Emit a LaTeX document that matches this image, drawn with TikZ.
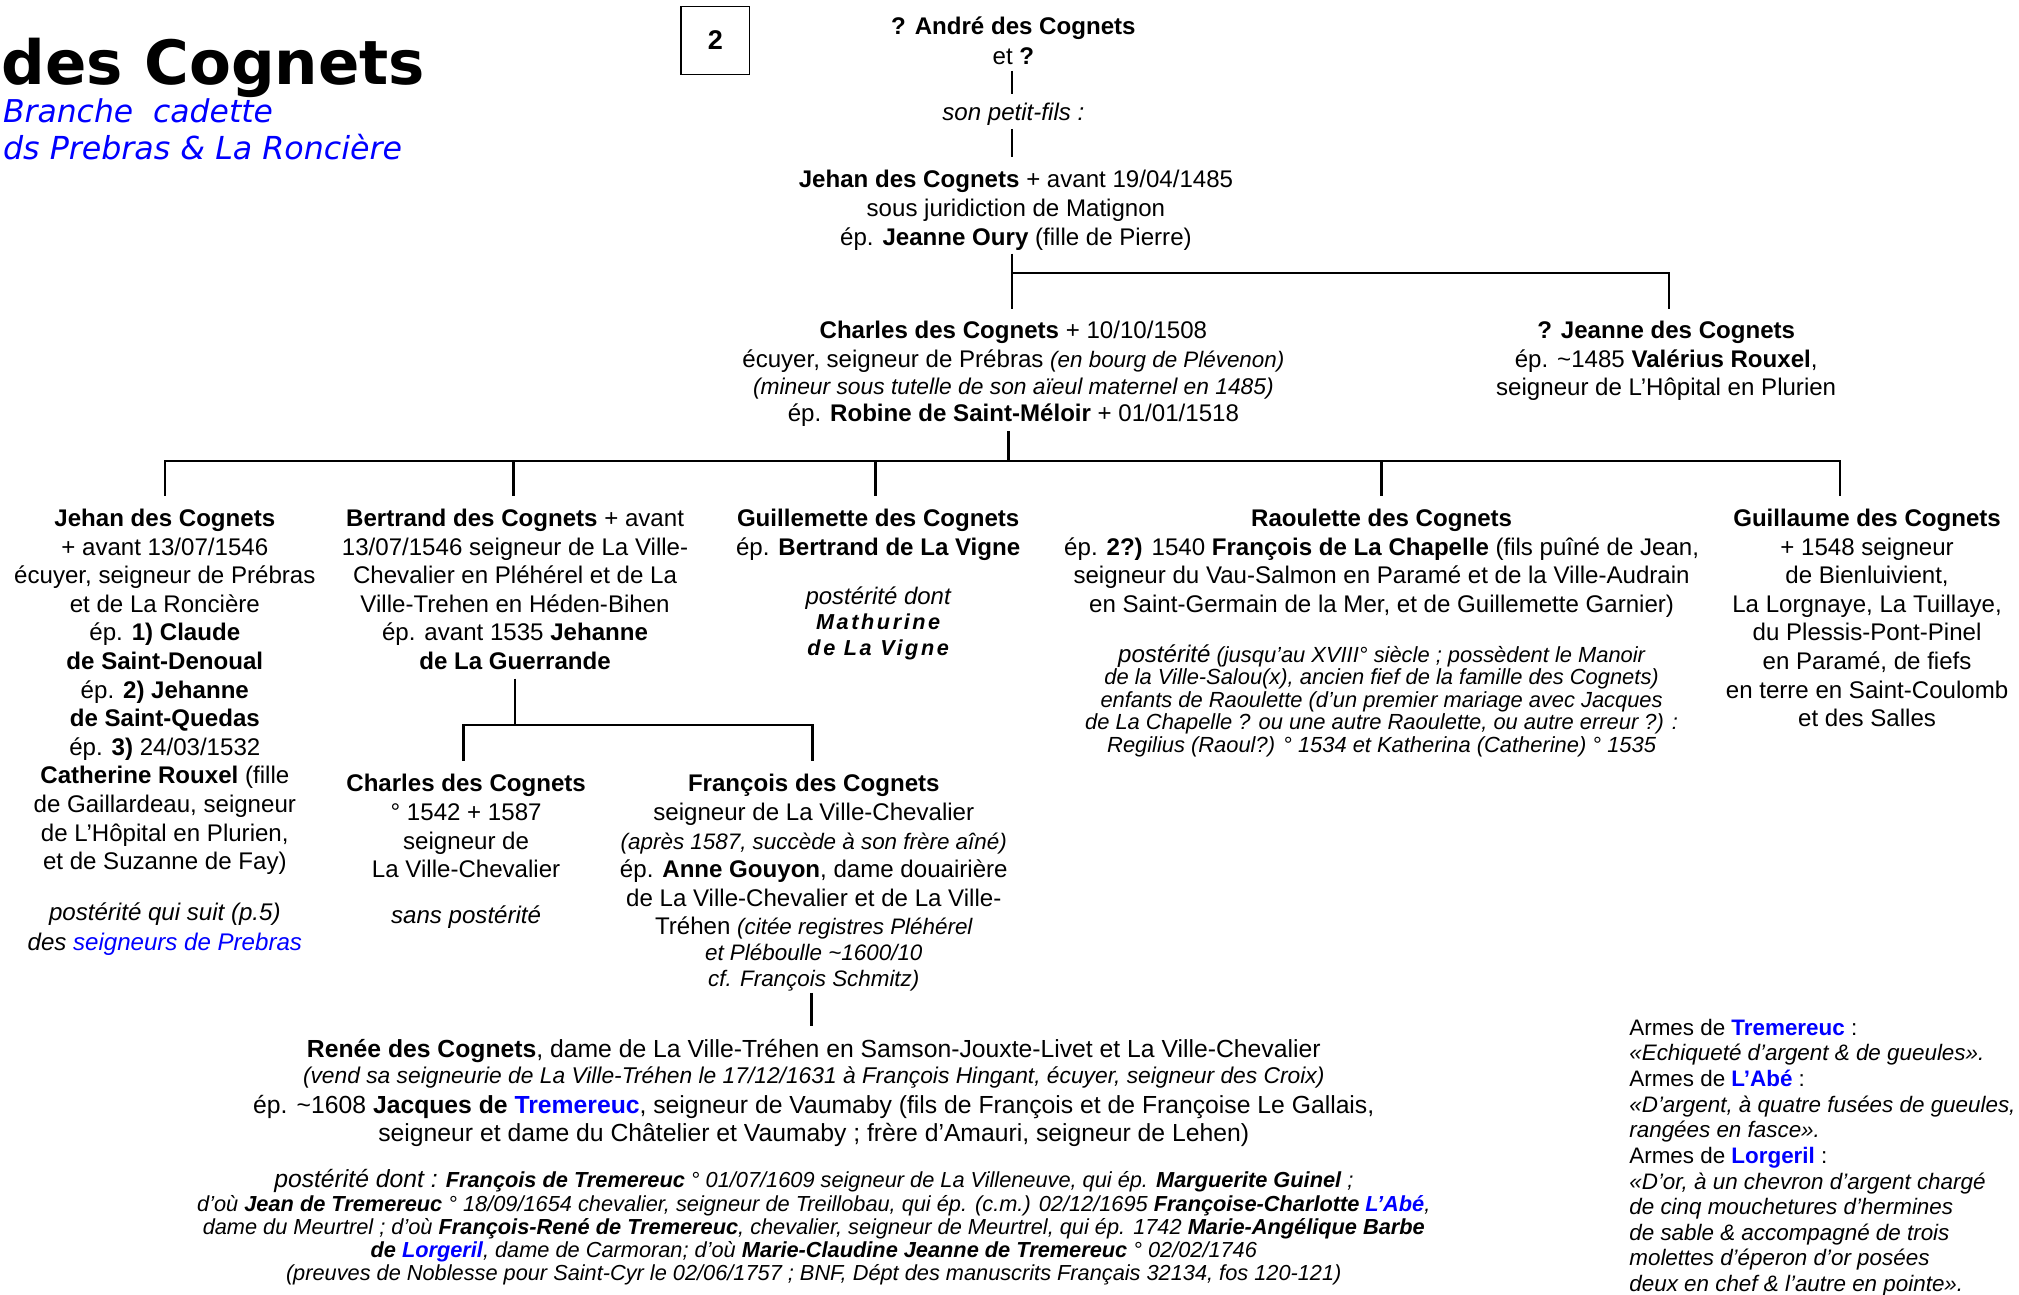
\documentclass[tikz,border=0pt]{standalone}
\usepackage{fontspec}
\setmainfont{Liberation Sans}
\newfontfamily\titlefont{DejaVu Sans}
\definecolor{lnk}{RGB}{0,0,255}
\newcommand{\fmain}{\fontsize{9.35}{11.1}\selectfont}
\newcommand{\fsml}{\fontsize{8.7}{10}\selectfont}
\newcommand{\ftin}{\fontsize{8.5}{8.75}\selectfont}
\newcommand{\fbot}{\fontsize{8.45}{9}\selectfont}
\newcommand{\farm}{\fontsize{8.7}{9.95}\selectfont}
\begin{document}
\begin{tikzpicture}[x=0.5pt,y=-0.5pt,
  conn/.style={line width=1pt},
  txt/.style={inner sep=0pt, align=center, font=\fmain, anchor=north}]
\fill[white] (0,0) rectangle (1568,1005);
\useasboundingbox (0,0) rectangle (1568,1005);

% title
\node[anchor=base west, inner sep=0pt, font=\titlefont\bfseries\fontsize{23.7}{28}\selectfont] (title) at (1,66) {des Cognets};
\node[anchor=base west, inner sep=0pt, text=lnk, font=\titlefont\itshape\fontsize{12.2}{14}\selectfont] (sub1) at (2,95) {Branche\ \ cadette};
\node[anchor=base west, inner sep=0pt, text=lnk, font=\titlefont\itshape\fontsize{12.3}{14}\selectfont] (sub2) at (2,124) {ds Prebras \& La Roncière};
\node[draw, line width=0.6pt, minimum width=26.5pt, minimum height=26.5pt, inner sep=0pt, font=\bfseries\fontsize{10.5}{12}\selectfont] (pg) at (555.5,31.5) {2};

% generations
\node[txt] (andre) at (787,13) {{\bfseries ? André des Cognets}\\[0.4pt] et {\bfseries ?}};
\node[txt, anchor=center, font=\fmain\itshape] (petit) at (787,89) {son petit-fils :};
\node[txt] (jehan0) at (789,132) {{\bfseries Jehan des Cognets} + avant 19/04/1485\\ sous juridiction de Matignon\\ ép. {\bfseries Jeanne Oury} (fille de Pierre)};

\node[txt] (charles0) at (787,249) {{\bfseries Charles des Cognets} + 10/10/1508\\
écuyer, seigneur de Prébras {\fsml\itshape (en bourg de Plévenon)}\\[-0.5pt]
{\fontsize{8.85}{10}\selectfont\itshape (mineur sous tutelle de son aïeul maternel en 1485)}\\[-0.5pt]
ép. {\bfseries Robine de Saint-Méloir} + 01/01/1518};
\node[txt] (jeanne) at (1294,249) {{\bfseries ? Jeanne des Cognets}\\ ép. \textasciitilde 1485 {\bfseries Valérius Rouxel},\\ seigneur de L’Hôpital en Plurien};

\node[txt] (jehan1) at (128,395) {{\bfseries Jehan des Cognets}\\
+ avant 13/07/1546\\
écuyer, seigneur de Prébras\\
et de La Roncière\\
ép. {\bfseries 1) Claude}\\
{\bfseries de Saint-Denoual}\\
ép. {\bfseries 2) Jehanne}\\
{\bfseries de Saint-Quedas}\\
ép. {\bfseries 3)} 24/03/1532\\
{\bfseries Catherine Rouxel} (fille\\
de Gaillardeau, seigneur\\
de L’Hôpital en Plurien,\\
et de Suzanne de Fay)};
\node[txt, font=\fmain\itshape] (jehan1p) at (128,701) {postérité qui suit (p.5)\\[0.5pt] des {\color{lnk}seigneurs de Prebras}};

\node[txt] (bertrand) at (400,395) {{\bfseries Bertrand des Cognets} + avant\\
13/07/1546 seigneur de La Ville-\\
Chevalier en Pléhérel et de La\\
Ville-Trehen en Héden-Bihen\\
ép. avant 1535 {\bfseries Jehanne}\\
{\bfseries de La Guerrande}};

\node[txt] (guillemette) at (682,395) {{\bfseries Guillemette des Cognets}\\ ép. {\bfseries Bertrand de La Vigne}};
\node[txt, font=\fontsize{9.3}{10}\selectfont] (guillemettep) at (682,455) {{\itshape postérité dont}\\
{\fontsize{8.4}{10}\selectfont\bfseries\itshape\addfontfeature{LetterSpace=12}Mathurine}\\
{\fontsize{8.4}{10}\selectfont\bfseries\itshape\addfontfeature{LetterSpace=12}de La Vigne}};

\node[txt] (raoulette) at (1073,395) {{\bfseries Raoulette des Cognets}\\
ép. {\bfseries 2?)} 1540 {\bfseries François de La Chapelle} (fils puîné de Jean,\\
seigneur du Vau-Salmon en Paramé et de la Ville-Audrain\\
en Saint-Germain de la Mer, et de Guillemette Garnier)};
\node[txt, font=\ftin\itshape] (raoulettep) at (1073,500) {{\fmain postérité} (jusqu’au XVIII° siècle ; possèdent le Manoir\\
de la Ville-Salou(x), ancien fief de la famille des Cognets)\\
enfants de Raoulette (d’un premier mariage avec Jacques\\
de La Chapelle ? ou une autre Raoulette, ou autre erreur ?) :\\
Regilius (Raoul?) ° 1534 et Katherina (Catherine) ° 1535};

\node[txt] (guillaume) at (1450,395) {{\bfseries Guillaume des Cognets}\\
+ 1548 seigneur\\
de Bienluivient,\\
La Lorgnaye, La Tuillaye,\\
du Plessis-Pont-Pinel\\
en Paramé, de fiefs\\
en terre en Saint-Coulomb\\
et des Salles};

\node[txt] (charles1) at (362,601) {{\bfseries Charles des Cognets}\\ ° 1542 + 1587\\ seigneur de\\ La Ville-Chevalier};
\node[txt, anchor=center, font=\fmain\itshape] (charles1p) at (362,712) {sans postérité};

\node[txt] (francois) at (632,601) {{\bfseries François des Cognets}\\
seigneur de La Ville-Chevalier\\
{\fsml\itshape (après 1587, succède à son frère aîné)}\\
ép. {\bfseries Anne Gouyon}, dame douairière\\
de La Ville-Chevalier et de La Ville-\\
Tréhen {\fsml\itshape (citée registres Pléhérel}\\[-1pt]
{\fsml\itshape et Pléboulle \textasciitilde 1600/10}\\[-1pt]
{\fsml\itshape cf. François Schmitz)}};

\node[txt, font=\fontsize{9.6}{11}\selectfont] (renee) at (632,807) {{\bfseries Renée des Cognets}, dame de La Ville-Tréhen en Samson-Jouxte-Livet et La Ville-Chevalier\\[-1pt]
{\fontsize{8.85}{10}\selectfont\itshape (vend sa seigneurie de La Ville-Tréhen le 17/12/1631 à François Hingant, écuyer, seigneur des Croix)}\\[0.5pt]
ép. \textasciitilde 1608 {\bfseries Jacques de {\color{lnk}Tremereuc}}, seigneur de Vaumaby (fils de François et de Françoise Le Gallais,\\
seigneur et dame du Châtelier et Vaumaby ; frère d’Amauri, seigneur de Lehen)};

\node[txt, font=\fbot\itshape] (reneep) at (632,908) {{\fontsize{9.6}{9}\selectfont postérité dont :} {\bfseries François de Tremereuc} ° 01/07/1609 seigneur de La Villeneuve, qui ép. {\bfseries Marguerite Guinel} ;\\
d’où {\bfseries Jean de Tremereuc} ° 18/09/1654 chevalier, seigneur de Treillobau, qui ép. (c.m.) 02/12/1695 {\bfseries Françoise-Charlotte {\color{lnk}L’Abé}},\\
dame du Meurtrel ; d’où {\bfseries François-René de Tremereuc}, chevalier, seigneur de Meurtrel, qui ép. 1742 {\bfseries Marie-Angélique Barbe}\\
{\bfseries de {\color{lnk}Lorgeril}}, dame de Carmoran; d’où {\bfseries Marie-Claudine Jeanne de Tremereuc} ° 02/02/1746\\
(preuves de Noblesse pour Saint-Cyr le 02/06/1757 ; BNF, Dépt des manuscrits Français 32134, fos 120-121)};

\node[txt, anchor=north west, align=left, font=\farm] (armes) at (1265,791) {Armes de {\bfseries\color{lnk}Tremereuc} :\\
{\itshape «Echiqueté d’argent \& de gueules».}\\
Armes de {\bfseries\color{lnk}L’Abé} :\\
{\itshape «D’argent, à quatre fusées de gueules,}\\
{\itshape rangées en fasce».}\\
Armes de {\bfseries\color{lnk}Lorgeril} :\\
{\itshape «D’or, à un chevron d’argent chargé}\\
{\itshape de cinq mouchetures d’hermines}\\
{\itshape de sable \& accompagné de trois}\\
{\itshape molettes d’éperon d’or posées}\\
{\itshape deux en chef \& l’autre en pointe».}};

% connector coordinates
\coordinate (a1) at (786,55);  \coordinate (a2) at (786,73);
\coordinate (p1) at (786,100); \coordinate (p2) at (786,122);
\coordinate (j1) at (786,197); \coordinate (j2) at (786,240);
\coordinate (jb) at (786,212); \coordinate (jr) at (1296,212); \coordinate (jr2) at (1296,240);
\coordinate (c1) at (783,335); \coordinate (cb) at (783,358);
\coordinate (cl) at (128,358); \coordinate (cr) at (1429,358);
\coordinate (k1) at (128,385); \coordinate (k2) at (399,385); \coordinate (k3) at (680,385);
\coordinate (k4) at (1073,385); \coordinate (k5) at (1429,385);
\coordinate (b1) at (400,527); \coordinate (bb) at (400,563);
\coordinate (bl) at (360,563); \coordinate (br) at (631,563);
\coordinate (bl2) at (360,591); \coordinate (br2) at (631,591);
\coordinate (f1) at (630,771); \coordinate (f2) at (630,797);

\draw[conn] (a1) -- (a2);
\draw[conn] (p1) -- (p2);
\draw[conn] (j1) -- (j2);
\draw[conn] (jb) -- (jr) -- (jr2);
\draw[conn] (c1) -- (cb);
\draw[conn] (k1) -- (cl) -- (cr) -- (k5);
\draw[conn] (k2) -- (k2 |- cl);
\draw[conn] (k3) -- (k3 |- cl);
\draw[conn] (k4) -- (k4 |- cl);
\draw[conn] (b1) -- (bb);
\draw[conn] (bl2) -- (bl) -- (br) -- (br2);
\draw[conn] (f1) -- (f2);
\end{tikzpicture}
\end{document}
